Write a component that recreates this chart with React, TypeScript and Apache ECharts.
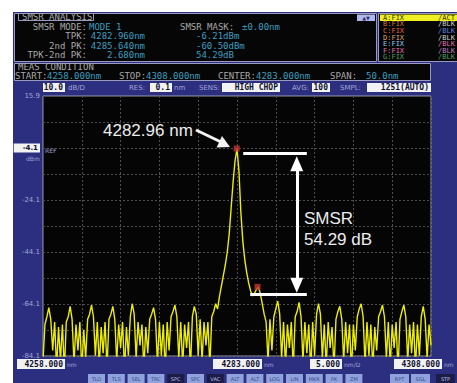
import React, { useEffect, useRef } from 'react';
import * as echarts from 'echarts';

// ---- data ----
const START_NM = 4258;
const STOP_NM = 4308;
const STEP_NM = 0.25;
const TRACE_DBM = [
  -86, -72, -69, -65.5, -70, -82, -71, -89, -73, -86,
  -72, -90, -71, -69, -65, -70, -87, -72, -82, -71,
  -90, -74, -85, -70, -68, -64.5, -69, -84, -71, -88,
  -73, -83, -71, -89, -70, -68, -65, -70, -86, -72,
  -81, -71, -90, -73, -84, -69, -64, -68, -85, -71,
  -80, -72, -89, -73, -83, -70, -68, -65.5, -70, -87,
  -71, -84, -72, -90, -71, -82, -69, -67, -64.5, -69,
  -85, -71, -88, -72, -81, -71, -89, -69, -65, -68,
  -84, -70, -86, -71, -80, -71, -88, -69, -67, -64,
  -66, -61, -57, -53, -49, -44, -37, -27, -17, -9,
  -4.3, -13, -29, -40, -47, -52, -56, -59, -61, -60,
  -58.5, -57.5, -60, -64, -68, -71, -86, -70, -82, -69,
  -66, -63, -68, -85, -71, -88, -72, -81, -71, -89,
  -69, -67, -63.5, -69, -86, -71, -83, -72, -90, -71,
  -84, -68, -64, -68, -85, -72, -88, -71, -81, -73,
  -89, -70, -67, -65, -70, -86, -71, -83, -72, -90,
  -72, -82, -69, -66, -64, -69, -87, -71, -84, -72,
  -89, -73, -82, -69, -67, -64.5, -69, -85, -71, -88,
  -72, -81, -71, -90, -70, -67, -64.5, -69, -86, -72,
  -83, -71, -89, -72, -84, -69, -65, -70, -85, -72,
  -80,
];
const MARKER_WL = [4282.96, 4285.64];
const MARKER_DBM = [-4.3, -57.5];
const SMSR_LEVELS = [-6.21, -60.5];
const Y_TICKS = ['15.9', '-4.1', '-24.1', '-44.1', '-64.1', '-84.1'];
const X_READOUTS = ['4258.000', '4283.000', '4308.000'];
const SCALE_READOUT = '5.000';

const MONO = '"DejaVu Sans Mono"';
const SANS = '"DejaVu Sans"';
const LAV = '#a4a4d4';
const GRAY = '#a8a8a8';
const TEAL = '#3c9fc0';

function txt(x: number, y: number, text: string, fill: string, font: string, align = 'left', z = 20) {
  return { type: 'text', x, y, z, silent: true, style: { text, fill, font, align, verticalAlign: 'middle' } };
}
function box(x: number, y: number, w: number, h: number, fill: string, stroke?: string, z = -5) {
  return {
    type: 'rect', z, silent: true,
    shape: { x, y, width: w, height: h },
    style: { fill, stroke: stroke || null, lineWidth: stroke ? 1 : 0 },
  };
}

export default function App() {
  const ref = useRef<HTMLDivElement>(null);

  useEffect(() => {
    if (!ref.current) return;
    const chart = echarts.init(ref.current, null, { renderer: 'svg' });

    const trace = TRACE_DBM.map((v, i) => [START_NM + i * STEP_NM, v]);
    const markers = MARKER_WL.map((w, i) => [w, MARKER_DBM[i]]);

    const f8 = `9px ${MONO}`;
    const graphics: any[] = [];
    // panels
    graphics.push(box(13, 12, 444, 371, '#2c2f80', undefined, -10));
    graphics.push(box(14.5, 13.5, 362, 48, '#060606', '#9a9ac0'));
    graphics.push(box(18.5, 13.5, 75, 7, '#060606', '#9a9ac0', -4));
    graphics.push(box(378.5, 13.5, 80, 48, '#060606', '#9a9ac0'));
    graphics.push(box(380, 14.5, 77, 6.5, '#f0f020', undefined, -4));
    graphics.push(box(357, 14.5, 18, 6.5, '#b0b8f0', undefined, -4));
    graphics.push(box(14.5, 63.5, 416, 17, '#060606', '#9a9ac0'));
    // SMSR analysis box
    graphics.push(txt(22, 17, 'SMSR ANALYSIS', GRAY, f8));
    const rowsY = [27, 36.3, 45.6, 54.9];
    const labs = ['SMSR MODE:', 'TPK:', '2nd PK:', 'TPK-2nd PK:'];
    labs.forEach((l, i) => graphics.push(txt(87, rowsY[i], l, GRAY, f8, 'right')));
    graphics.push(txt(89, rowsY[0], 'MODE 1', TEAL, f8));
    graphics.push(txt(145, rowsY[1], '4282.960nm', TEAL, f8, 'right'));
    graphics.push(txt(145, rowsY[2], '4285.640nm', TEAL, f8, 'right'));
    graphics.push(txt(145, rowsY[3], '2.680nm', TEAL, f8, 'right'));
    graphics.push(txt(180, rowsY[0], 'SMSR MASK:', GRAY, f8));
    graphics.push(txt(242, rowsY[0], '±0.00nm', TEAL, f8));
    graphics.push(txt(196, rowsY[1], '-6.21dBm', TEAL, f8));
    graphics.push(txt(196, rowsY[2], '-60.50dBm', TEAL, f8));
    graphics.push(txt(196, rowsY[3], '54.29dB', TEAL, f8));
    graphics.push(txt(366, 17.8, '▲▼', '#303060', `5px ${SANS}`, 'center'));
    // trace list
    const tl = [
      ['A:FIX', '/ACT', '#303000', '#303000'],
      ['B:FIX', '/BLK', '#c87838', '#d0d0d0'],
      ['C:FIX', '/BLK', '#e06048', '#6080e0'],
      ['D:FIX', '/BLK', '#d8a070', '#d0d0d0'],
      ['E:FIX', '/BLK', '#88c8f0', '#e070b0'],
      ['F:FIX', '/BLK', '#e070b0', '#c080c0'],
      ['G:FIX', '/BLK', '#48a060', '#48a060'],
    ];
    tl.forEach((r, i) => {
      const y = 17.8 + i * 6.6;
      graphics.push(txt(383, y, r[0], r[2], `7px ${MONO}`));
      graphics.push(txt(438, y, r[1], r[3], `7px ${MONO}`));
    });
    // meas condition
    graphics.push(txt(18, 67, 'MEAS CONDITION', GRAY, f8));
    graphics.push(txt(15, 75.5, 'START:', GRAY, f8));
    graphics.push(txt(47, 75.5, '4258.000nm', TEAL, f8));
    graphics.push(txt(119, 75.5, 'STOP:', GRAY, f8));
    graphics.push(txt(146, 75.5, '4308.000nm', TEAL, f8));
    graphics.push(txt(218, 75.5, 'CENTER:', GRAY, f8));
    graphics.push(txt(256, 75.5, '4283.000nm', TEAL, f8));
    graphics.push(txt(330, 75.5, 'SPAN:', GRAY, f8));
    graphics.push(txt(366, 75.5, '50.0nm', TEAL, f8));
    // header row above plot
    const hb = `bold 8px ${MONO}`;
    const hl = `7px ${SANS}`;
    graphics.push(box(43, 83, 22, 9, '#f2f2f2', undefined, -4));
    graphics.push(txt(63, 87.8, '10.0', '#101030', hb, 'right'));
    graphics.push(txt(68, 87.8, 'dB/D', LAV, hl));
    graphics.push(txt(129, 87.8, 'RES:', LAV, hl));
    graphics.push(box(150, 83, 22, 9, '#f2f2f2', undefined, -4));
    graphics.push(txt(170, 87.8, '0.1', '#101030', hb, 'right'));
    graphics.push(txt(174, 87.8, 'nm', LAV, hl));
    graphics.push(txt(199, 87.8, 'SENS:', LAV, hl));
    graphics.push(box(222, 83, 58, 9, '#f2f2f2', undefined, -4));
    graphics.push(txt(278, 87.8, 'HIGH CHOP', '#101030', hb, 'right'));
    graphics.push(txt(292, 87.8, 'AVG:', LAV, hl));
    graphics.push(box(312, 83, 18, 9, '#f2f2f2', undefined, -4));
    graphics.push(txt(328, 87.8, '100', '#101030', hb, 'right'));
    graphics.push(txt(340, 87.8, 'SMPL:', LAV, hl));
    graphics.push(box(367, 83, 64, 9, '#f2f2f2', undefined, -4));
    graphics.push(txt(429, 87.8, '1251(AUTO)', '#101030', hb, 'right'));
    // axis extras
    graphics.push(txt(45, 150.5, 'REF', LAV, `6px ${SANS}`));
    graphics.push(txt(26, 158.5, 'dBm', LAV, `6px ${SANS}`));
    // bottom readouts
    const rb = [[17, 48, X_READOUTS[0], 'nm'], [213, 49, X_READOUTS[1], 'nm'], [310, 32, SCALE_READOUT, 'nm/D'], [394, 48, X_READOUTS[2], 'nm']] as any[];
    rb.forEach((r) => {
      graphics.push(box(r[0], 359, r[1], 10, '#f2f2f2', undefined, -4));
      graphics.push(txt(r[0] + r[1] - 2, 364.2, r[2], '#101030', hb, 'right'));
      graphics.push(txt(r[0] + r[1] + 2, 364.2, r[3], LAV, `6px ${SANS}`));
    });
    // buttons
    const btn = ['TLO', 'TLS', 'SEL', 'TRC', 'SPC', 'SPC', 'VAC', 'ALT', 'ALT', 'LOG', 'LIN', 'MKR', 'PK', 'ZM'];
    btn.forEach((b, i) => {
      const x = 88 + i * 19.8;
      const dark = i === 4 || i === 6;
      graphics.push(box(x, 374, 17, 10, dark ? '#1c1c48' : '#8fa2dc', undefined, -4));
      graphics.push(txt(x + 8.5, 379, b, dark ? '#c0c0e0' : '#3a4a90', `5px ${SANS}`, 'center'));
    });
    [['RPT', 390, false], ['SGL', 411, false], ['STP', 436, true]].forEach((b: any) => {
      graphics.push(box(b[1], 374, 19, 10, b[2] ? '#1c1c48' : '#8fa2dc', undefined, -4));
      graphics.push(txt(b[1] + 9.5, 379, b[0], b[2] ? '#c0c0e0' : '#3a4a90', `5px ${SANS}`, 'center'));
    });
    // annotations
    const AF = '17px "Liberation Sans"';
    graphics.push(txt(103, 130, '4282.96 nm', '#ececec', AF, 'left', 50));
    graphics.push({ type: 'line', z: 50, silent: true, shape: { x1: 196, y1: 130, x2: 221, y2: 142 }, style: { stroke: '#f4f4f4', lineWidth: 3 } });
    graphics.push({ type: 'polygon', z: 50, silent: true, shape: { points: [[230, 147], [216.6, 147.6], [222, 136]] }, style: { fill: '#f4f4f4' } });
    graphics.push(txt(304, 218, 'SMSR', '#ececec', AF, 'left', 50));
    graphics.push(txt(304, 239, '54.29 dB', '#ececec', AF, 'left', 50));

    chart.setOption({
      animation: false,
      backgroundColor: '#ffffff',
      grid: { left: 43, top: 96, width: 388, height: 260, show: true, backgroundColor: '#050505', borderColor: '#9a9ab4', borderWidth: 1, containLabel: false },
      xAxis: [
        { type: 'value', min: START_NM, max: STOP_NM, show: false },
        {
          type: 'value', min: 0, max: 50, interval: 5,
          axisLine: { show: false }, axisTick: { show: false }, axisLabel: { show: false },
          splitLine: { show: true, lineStyle: { color: '#4c4c4c', width: 1, type: [2, 2] } },
        },
      ],
      yAxis: [
        { type: 'value', min: -84.1, max: 15.9, show: false },
        {
          type: 'value', min: 0, max: 100, interval: 10, position: 'left',
          axisLine: { show: false }, axisTick: { show: false },
          splitLine: { show: true, lineStyle: { color: '#4c4c4c', width: 1, type: [2, 2] } },
          axisLabel: {
            margin: 3, color: LAV, fontSize: 7, fontFamily: 'DejaVu Sans',
            formatter: (v: number) => {
              if (Math.round(v) % 20 !== 0) return '';
              const s = Y_TICKS[Math.round((100 - v) / 20)];
              return v === 80 ? `{ref|${s}}` : s;
            },
            rich: {
              ref: { backgroundColor: '#f2f2f2', color: '#101030', fontSize: 7, fontWeight: 'bold', padding: [1, 2, 1, 9], fontFamily: 'DejaVu Sans' },
            },
          },
        },
      ],
      graphic: { elements: graphics },
      series: [
        {
          type: 'line', xAxisIndex: 0, yAxisIndex: 0, data: trace, showSymbol: false, clip: true,
          lineStyle: { color: '#eeee00', width: 1.4 }, z: 3,
          markLine: {
            silent: true, animation: false, symbol: 'none', label: { show: false },
            lineStyle: { color: '#ffffff', width: 3, type: 'solid' },
            data: [
              [{ coord: [4283.8, SMSR_LEVELS[0]] }, { coord: [4292.0, SMSR_LEVELS[0]] }],
              [{ coord: [4284.7, SMSR_LEVELS[1]] }, { coord: [4292.0, SMSR_LEVELS[1]] }],
              [
                { coord: [4290.7, -10.2], symbol: 'triangle', symbolSize: [13, 15] },
                { coord: [4290.7, -56.9], symbol: 'triangle', symbolSize: [13, 15] },
              ],
            ],
          },
        },
        {
          type: 'scatter', xAxisIndex: 0, yAxisIndex: 0, data: markers, symbol: 'rect', symbolSize: 6,
          itemStyle: { color: '#c43232' }, z: 5,
        },
      ],
    });
    return () => chart.dispose();
  }, []);

  return <div ref={ref} style={{ position: 'fixed', left: 0, top: 0, width: 457, height: 383 }} />;
}
